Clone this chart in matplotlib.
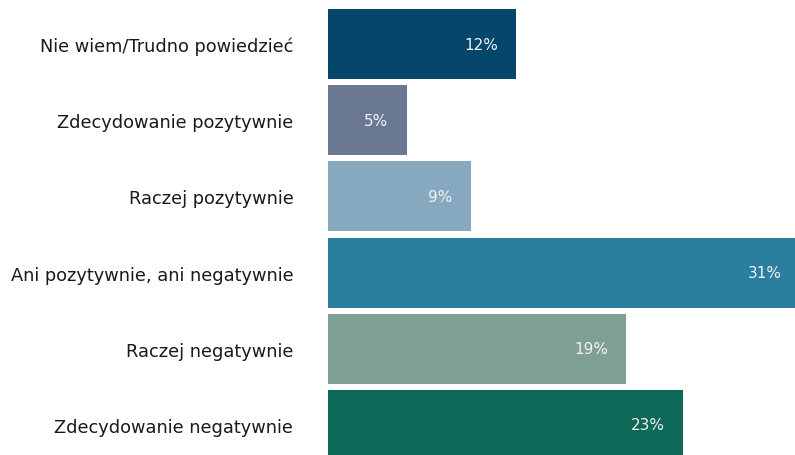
import matplotlib
matplotlib.use("Agg")
import matplotlib.pyplot as plt

categories = [
    "Nie wiem/Trudno powiedzieć",
    "Zdecydowanie pozytywnie",
    "Raczej pozytywnie",
    "Ani pozytywnie, ani negatywnie",
    "Raczej negatywnie",
    "Zdecydowanie negatywnie",
]
values = [12.0, 5.0, 9.1, 31.0, 19.0, 22.6]
colors = ["#05476A", "#6B7894", "#87A9BF", "#2A7F9E", "#7FA097", "#0E6857"]

plt.rcParams['font.family'] = ['DejaVu Sans']

W, H = 795, 456
fig = plt.figure(figsize=(W / 100, H / 100), dpi=100)
x0 = 328
px_per_unit = 15.7
ax = fig.add_axes([x0 / W, 0, 1 - x0 / W, 1])
xmax = (W - x0) / px_per_unit
ax.set_xlim(0, xmax)
step = 76.2
c0 = 45
ax.set_ylim((H - c0) / step, -c0 / step)

ys = list(range(len(categories)))
ax.barh(ys, values, height=70 / step, color=colors)

for y, v in zip(ys, values):
    xv = min(v, xmax)
    off = -18 if v <= xmax else -13
    ax.annotate(f"{round(v)}%", (xv, y), xytext=(off, 0), textcoords="offset pixels",
                ha="right", va="center", color="#F2F2F2", fontsize=11)

ax.set_yticks(ys)
ax.set_yticklabels(categories, fontsize=12.8, color="#1A1A1A")
ax.tick_params(axis="y", length=0, pad=25)
ax.set_xticks([])
for s in ax.spines.values():
    s.set_visible(False)

fig.savefig("out.png", dpi=100)
